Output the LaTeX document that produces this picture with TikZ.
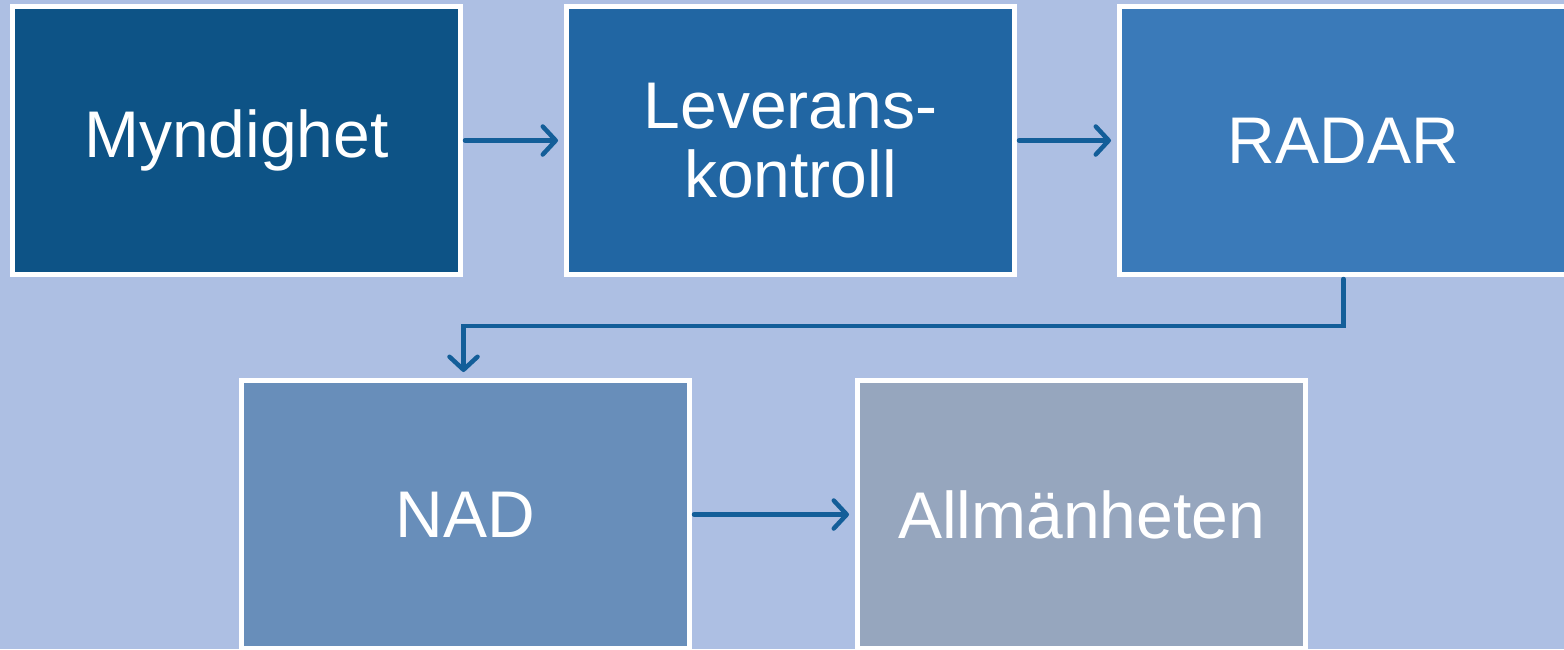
\documentclass[tikz,border=0pt]{standalone}
\usepackage{fontspec}
\setmainfont{Liberation Sans}
\usetikzlibrary{arrows.meta}
\definecolor{bgc}{HTML}{ADBFE3}
\definecolor{cA}{HTML}{0D5386}
\definecolor{cB}{HTML}{2166A3}
\definecolor{cC}{HTML}{3A7AB9}
\definecolor{cD}{HTML}{688EBA}
\definecolor{cE}{HTML}{96A6BE}
\definecolor{arr}{HTML}{135E99}
\tikzset{
  boxst/.style={draw=white, line width=5pt, minimum width=448pt, minimum height=268pt,
    inner sep=0pt, text=white, align=center, font=\fontsize{66}{69}\selectfont},
  flow/.style={draw=arr, line width=4.5pt, line cap=round, line join=miter,
    -{Straight Barb[length=13pt, width=28pt, line width=4.5pt, round]}, shorten >=6pt, shorten <=2pt}
}
\begin{document}
\begin{tikzpicture}[x=1pt,y=1pt]
\fill[bgc] (0,0) rectangle (1564,-649);
\useasboundingbox (0,0) rectangle (1564,-649);
\node[boxst, fill=cA] (myn) at (236.5,-140.5) {Myndighet};
\node[boxst, fill=cB] (lev) at (790.5,-140.5) {Leverans-\\kontroll};
\node[boxst, fill=cC] (rad) at (1343.5,-140.5) {RADAR};
\node[boxst, fill=cD] (nad) at (465.5,-514.5) {NAD};
\node[boxst, fill=cE] (all) at (1081.5,-514.5) {Allmänheten};
\draw[flow] (myn.east) -- (lev.west);
\draw[flow] (lev.east) -- (rad.west);
\draw[flow] (rad.south) -- ++(0,-49) -| ([xshift=-2pt]nad.north);
\draw[flow] (nad.east) -- (all.west);
\end{tikzpicture}
\end{document}
